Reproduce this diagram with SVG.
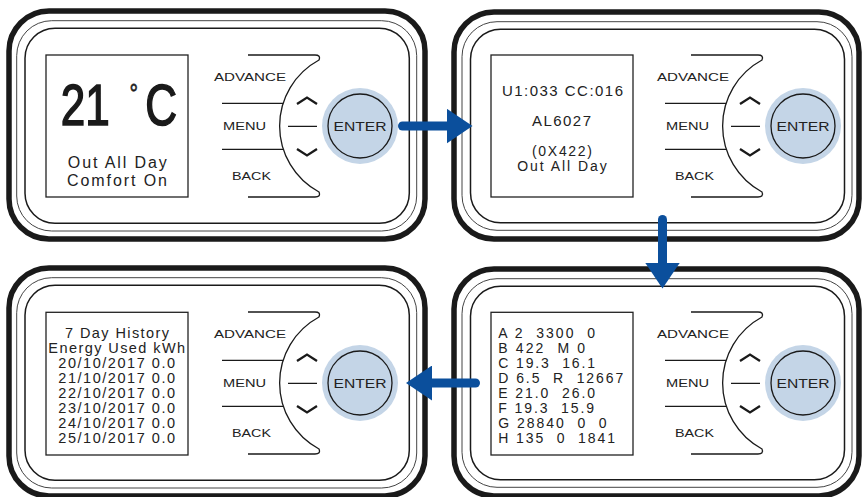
<svg xmlns="http://www.w3.org/2000/svg" width="864" height="497" viewBox="0 0 864 497">
<style>
  .outer{fill:none;stroke:#1a1a1a;stroke-width:5.5}
  .mid{fill:none;stroke:#444;stroke-width:1}
  .inner{fill:none;stroke:#1a1a1a;stroke-width:1.5}
  .lcd{fill:#fff;stroke:#222;stroke-width:1.3}
  .ln{fill:none;stroke:#1a1a1a;stroke-width:1.3}
  .chev{fill:none;stroke:#1a1a1a;stroke-width:2.3}
  .halo{fill:#c4d5e7}
  .ring{fill:none;stroke:#1a1a1a;stroke-width:1.3}
  .btn{font-family:"Liberation Sans",Arial,sans-serif;font-size:11.5px;fill:#222;text-anchor:middle}
  .ent{font-family:"Liberation Sans",Arial,sans-serif;font-size:13px;fill:#222;text-anchor:middle}
  .t{font-family:"Liberation Sans",Arial,sans-serif;fill:#222}
  .c{text-anchor:middle}
  .pre text{white-space:pre}
  .seg{font-family:"Liberation Sans",Arial,sans-serif;fill:#1a1a1a;stroke:#1a1a1a;stroke-width:1.6;stroke-linejoin:miter}
  .arrow{fill:none;stroke:#0b4f9c;stroke-width:9;stroke-linecap:round}
</style>
<defs>
  <marker id="head" viewBox="0 0 26 35" markerWidth="26" markerHeight="35" refX="0.5" refY="17.5" orient="auto" markerUnits="userSpaceOnUse">
    <path d="M0,0 L26,17.5 L0,35 Z" fill="#0b4f9c"/>
  </marker>
  <g id="btnshape">
    <path class="ln" d="M248,55 H315 Q321,55 319,60 A75,75 0 0 0 319,192 Q321,197 315,197 H248"/>
    <path class="ln" d="M222,103.3 H283 M222,149.3 H283 M288,126.3 H317"/>
    <polyline class="chev" points="297,104 307,97.5 317,104"/>
    <polyline class="chev" points="297,149 307,155.5 317,149"/>
    <circle class="halo" cx="360" cy="126" r="38"/>
    <circle class="ring" cx="360" cy="126" r="32"/>
  </g>
  <g id="frameL">
    <rect class="outer" x="9" y="11" width="416" height="228" rx="40"/>
    <rect class="mid" x="16.7" y="20.7" width="400" height="210.3" rx="35"/>
    <rect class="inner" x="25" y="28.3" width="384.3" height="195" rx="30"/>
  </g>
  <g id="frameR">
    <rect class="outer" x="454" y="12" width="405" height="227" rx="40"/>
    <rect class="mid" x="462" y="21.7" width="390" height="208.6" rx="35"/>
    <rect class="inner" x="470.5" y="29.3" width="374" height="193.5" rx="30"/>
  </g>
</defs>

<g id="panel-1">
  <use href="#frameL"/>
  <rect class="lcd" x="46" y="55" width="142" height="142"/>
  <text class="seg" transform="translate(0,125) scale(0.76,1)" font-size="58"><tspan x="80" y="-0.5">21</tspan><tspan x="170.4" y="-22" font-size="28" stroke-width="0.6">°</tspan><tspan x="191" y="-0.5">C</tspan></text>
  <text class="t c" x="117.3" y="168" font-size="16" textLength="99" lengthAdjust="spacing">Out All Day</text>
  <text class="t c" x="117" y="185.7" font-size="16" textLength="100" lengthAdjust="spacing">Comfort On</text>
  <g transform="translate(0,0)">
    <use href="#btnshape"/>
    <text class="btn" x="250" y="80.5" textLength="72" lengthAdjust="spacingAndGlyphs">ADVANCE</text>
    <text class="btn" x="244.5" y="130" textLength="43" lengthAdjust="spacingAndGlyphs">MENU</text>
    <text class="btn" x="251.5" y="180" textLength="39" lengthAdjust="spacingAndGlyphs">BACK</text>
    <text class="ent" x="360" y="131" textLength="53" lengthAdjust="spacingAndGlyphs">ENTER</text>
  </g>
</g>

<g id="panel-2">
  <use href="#frameR"/>
  <rect class="lcd" x="491" y="55" width="142" height="142"/>
  <text class="t c" x="562.5" y="96" font-size="15" textLength="121" lengthAdjust="spacing">U1:033 CC:016</text>
  <text class="t c" x="561.5" y="126" font-size="15" textLength="59" lengthAdjust="spacing">AL6027</text>
  <text class="t c" x="562" y="155.5" font-size="14" textLength="60" lengthAdjust="spacing">(0X422)</text>
  <text class="t c" x="562" y="170.5" font-size="14" textLength="89.4" lengthAdjust="spacing">Out All Day</text>
  <g transform="translate(443,0)">
    <use href="#btnshape"/>
    <text class="btn" x="250" y="80.5" textLength="72" lengthAdjust="spacingAndGlyphs">ADVANCE</text>
    <text class="btn" x="244.5" y="130" textLength="43" lengthAdjust="spacingAndGlyphs">MENU</text>
    <text class="btn" x="251.5" y="180" textLength="39" lengthAdjust="spacingAndGlyphs">BACK</text>
    <text class="ent" x="360" y="131" textLength="53" lengthAdjust="spacingAndGlyphs">ENTER</text>
  </g>
</g>

<g id="panel-3">
  <use href="#frameL" transform="translate(0,257)"/>
  <rect class="lcd" x="46" y="312.3" width="142" height="142.7"/>
  <g class="t c" font-size="14.5">
    <text x="117" y="338.3" textLength="104" lengthAdjust="spacing">7 Day History</text>
    <text x="116.7" y="353.3" textLength="136.7" lengthAdjust="spacing">Energy Used kWh</text>
    <text x="116.7" y="368.3" textLength="116.7" lengthAdjust="spacing">20/10/2017 0.0</text>
    <text x="116.7" y="383.3" textLength="116.7" lengthAdjust="spacing">21/10/2017 0.0</text>
    <text x="116.7" y="398.3" textLength="116.7" lengthAdjust="spacing">22/10/2017 0.0</text>
    <text x="116.7" y="413.3" textLength="116.7" lengthAdjust="spacing">23/10/2017 0.0</text>
    <text x="116.7" y="428.3" textLength="116.7" lengthAdjust="spacing">24/10/2017 0.0</text>
    <text x="116.7" y="443.3" textLength="116.7" lengthAdjust="spacing">25/10/2017 0.0</text>
  </g>
  <g transform="translate(0,257)">
    <use href="#btnshape"/>
    <text class="btn" x="250" y="80.5" textLength="72" lengthAdjust="spacingAndGlyphs">ADVANCE</text>
    <text class="btn" x="244.5" y="130" textLength="43" lengthAdjust="spacingAndGlyphs">MENU</text>
    <text class="btn" x="251.5" y="180" textLength="39" lengthAdjust="spacingAndGlyphs">BACK</text>
    <text class="ent" x="360" y="131" textLength="53" lengthAdjust="spacingAndGlyphs">ENTER</text>
  </g>
</g>

<g id="panel-4">
  <use href="#frameR" transform="translate(0,257)"/>
  <rect class="lcd" x="491" y="312.3" width="142" height="142.7"/>
  <g class="t pre" font-size="14">
    <text x="498.3" y="338" textLength="96.7" lengthAdjust="spacing">A 2  3300  0</text>
    <text x="498.3" y="353" textLength="86.7" lengthAdjust="spacing">B 422  M 0</text>
    <text x="498.3" y="368" textLength="96.7" lengthAdjust="spacing">C 19.3  16.1</text>
    <text x="498.3" y="383" textLength="125" lengthAdjust="spacing">D 6.5  R  12667</text>
    <text x="498.3" y="398" textLength="96.7" lengthAdjust="spacing">E 21.0  26.0</text>
    <text x="498.3" y="413" textLength="95.7" lengthAdjust="spacing">F 19.3  15.9</text>
    <text x="498.3" y="428" textLength="108.3" lengthAdjust="spacing">G 28840  0  0</text>
    <text x="498.3" y="443" textLength="116.7" lengthAdjust="spacing">H 135  0  1841</text>
  </g>
  <g transform="translate(443,257)">
    <use href="#btnshape"/>
    <text class="btn" x="250" y="80.5" textLength="72" lengthAdjust="spacingAndGlyphs">ADVANCE</text>
    <text class="btn" x="244.5" y="130" textLength="43" lengthAdjust="spacingAndGlyphs">MENU</text>
    <text class="btn" x="251.5" y="180" textLength="39" lengthAdjust="spacingAndGlyphs">BACK</text>
    <text class="ent" x="360" y="131" textLength="53" lengthAdjust="spacingAndGlyphs">ENTER</text>
  </g>
</g>

<g id="connectors">
  <path class="arrow" d="M402.5,126 H447" marker-end="url(#head)"/>
  <path class="arrow" d="M662.5,219.5 V263" marker-end="url(#head)"/>
  <path class="arrow" d="M475.5,383 H431.5" marker-end="url(#head)"/>
</g>
</svg>
